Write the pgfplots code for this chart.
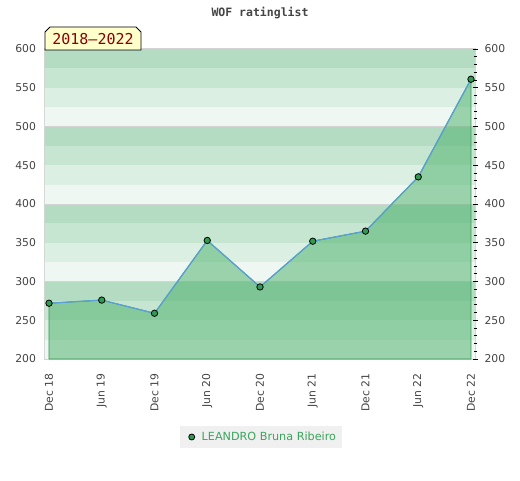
\documentclass[border=0pt]{standalone}
\usepackage{fontspec}
\setmainfont{DejaVu Sans}
\newfontfamily\monofont{DejaVu Sans Mono}
\usepackage{pgfplots}
\pgfplotsset{compat=1.18}
\definecolor{bA}{HTML}{B3DCC2}
\definecolor{bB}{HTML}{C7E6D2}
\definecolor{bC}{HTML}{DCEFE3}
\definecolor{bD}{HTML}{EFF7F2}
\definecolor{fillg}{RGB}{78,178,109}
\definecolor{edgeg}{RGB}{50,150,80}
\definecolor{lineb}{HTML}{5A9FD8}
\definecolor{markg}{HTML}{2E9B50}
\definecolor{legtext}{HTML}{3AA55C}
\definecolor{ticktext}{HTML}{444444}
\definecolor{border}{HTML}{D4D4D4}
\definecolor{legfill}{HTML}{F0F0F0}
\definecolor{boxfill}{HTML}{FFFFCC}
\definecolor{boxtext}{HTML}{8B0000}
\begin{document}
\begin{tikzpicture}[x=1pt,y=1pt]
\path[use as bounding box] (0,0) rectangle (520,480);
\begin{axis}[
  at={(45pt,121pt)}, anchor=south west,
  scale only axis, width=430pt, height=310pt,
  xmin=-0.076, xmax=8.076, ymin=200, ymax=600,
  xtick={0,...,8},
  xticklabels={Dec 18,Jun 19,Dec 19,Jun 20,Dec 20,Jun 21,Dec 21,Jun 22,Dec 22},
  ytick={200,250,...,600},
  major tick length=0pt,
  axis line style={draw=border, line width=1.2pt},
  tick label style={font=\fontsize{10.8}{13}\selectfont, text=ticktext},
  /pgf/number format/assume math mode=true,
  yticklabel style={xshift=-5.5pt},
  xticklabel style={yshift=-11pt, rotate=90, anchor=east},
  legend style={at={(0.502,-0.2516)}, anchor=center, fill=legfill, draw=none,
    font=\fontsize{11.2}{13}\selectfont, text=legtext, inner xsep=4pt, inner ysep=3.5pt},
  legend image code/.code={\path[draw=none,fill=none] (-8pt,-3pt) rectangle (8pt,3pt);
    \draw[mark=*, mark size=3pt, mark options={fill=markg, draw=black, line width=0.8pt}] plot coordinates {(0pt,0pt)};},
]
% background bands
\fill[bA] (axis cs:-1,575) rectangle (axis cs:9,600);
\fill[bB] (axis cs:-1,550) rectangle (axis cs:9,575);
\fill[bC] (axis cs:-1,525) rectangle (axis cs:9,550);
\fill[bD] (axis cs:-1,500) rectangle (axis cs:9,525);
\fill[bA] (axis cs:-1,475) rectangle (axis cs:9,500);
\fill[bB] (axis cs:-1,450) rectangle (axis cs:9,475);
\fill[bC] (axis cs:-1,425) rectangle (axis cs:9,450);
\fill[bD] (axis cs:-1,400) rectangle (axis cs:9,425);
\fill[bA] (axis cs:-1,375) rectangle (axis cs:9,400);
\fill[bB] (axis cs:-1,350) rectangle (axis cs:9,375);
\fill[bC] (axis cs:-1,325) rectangle (axis cs:9,350);
\fill[bD] (axis cs:-1,300) rectangle (axis cs:9,325);
\fill[bA] (axis cs:-1,275) rectangle (axis cs:9,300);
\fill[bB] (axis cs:-1,250) rectangle (axis cs:9,275);
\fill[bC] (axis cs:-1,225) rectangle (axis cs:9,250);
\fill[bD] (axis cs:-1,200) rectangle (axis cs:9,225);
\draw[border, line width=1pt] (axis cs:-1,500) -- (axis cs:9,500);
\draw[border, line width=1pt] (axis cs:-1,400) -- (axis cs:9,400);
\draw[border, line width=1pt] (axis cs:-1,300) -- (axis cs:9,300);
\addplot[fill=fillg, fill opacity=0.53, draw=edgeg, line width=0.9pt, forget plot] table {
x y
0 272
1 276
2 259
3 353
4 293
5 352
6 365
7 435
8 561
} \closedcycle;
\addplot[color=lineb, line width=1.2pt, mark=*, mark size=3.2pt,
  mark options={fill=markg, draw=black, line width=0.8pt}] table {
x y
0 272
1 276
2 259
3 353
4 293
5 352
6 365
7 435
8 561
};
\addlegendentry{LEANDRO Bruna Ribeiro}
\end{axis}
\begin{axis}[
  at={(45pt,121pt)}, anchor=south west,
  scale only axis, width=430pt, height=310pt,
  xmin=-0.076, xmax=8.076, ymin=200, ymax=600,
  hide x axis, axis y line*=right, y axis line style={draw=none},
  ytick={200,250,...,600}, minor ytick={210,220,...,590},
  major tick length=5pt, minor tick length=3pt, tick align=center,
  tick style={black, line width=0.6pt},
  tick label style={font=\fontsize{10.8}{13}\selectfont, text=ticktext},
  /pgf/number format/assume math mode=true,
  yticklabel style={xshift=3.5pt},
]
\addplot[draw=none] coordinates {(0,300)};
\end{axis}
\node[font=\monofont\bfseries\fontsize{11.5}{13}\selectfont, text=ticktext] at (260,467) {WOF ratinglist};
\draw[black, line width=0.8pt, fill=boxfill] (45,430) -- (45,448) -- (50,453) -- (136,453) -- (141,448) -- (141,430) -- cycle;
\node[font=\monofont\fontsize{15}{17}\selectfont, text=boxtext] at (93,441) {2018–2022};
\end{tikzpicture}
\end{document}
